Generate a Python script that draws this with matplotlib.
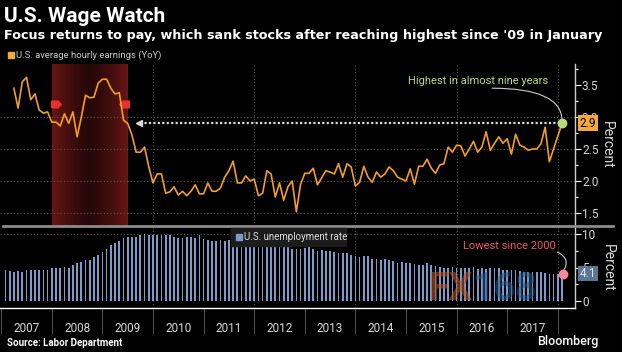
import numpy as np
import matplotlib.pyplot as plt
from matplotlib.lines import Line2D
from matplotlib.patches import Rectangle
from matplotlib.colors import LinearSegmentedColormap

plt.rcParams['font.family'] = ['Roboto', 'DejaVu Sans']

# U.S. average hourly earnings, YoY %, monthly from Mar 2007 to Jan 2018
wage_start = (2007, 3)
wages = [3.45, 3.14, 3.55, 3.62, 3.27, 3.36, 3.11, 3.06, 3.08, 2.92,
         2.92, 2.86, 3.05, 2.90, 3.08, 2.69, 3.00, 3.34, 3.30, 3.31, 3.53, 3.59,
         3.59, 3.45, 3.36, 3.38, 2.95, 2.90, 2.72, 2.45, 2.45, 2.53, 2.22, 1.97,
         2.11, 2.11, 1.81, 1.83, 1.91, 1.78, 1.84, 1.77, 1.84, 1.94, 1.80, 1.80,
         1.97, 1.84, 1.84, 1.89, 2.06, 2.16, 2.31, 1.97, 1.97, 2.08, 2.00, 2.03,
         1.77, 1.81, 2.16, 2.11, 1.75, 1.97, 1.70, 1.91, 2.00, 1.52, 1.95, 2.12,
         2.12, 2.20, 1.94, 2.05, 2.16, 2.14, 2.11, 2.27, 2.06, 2.27, 2.22, 1.92,
         1.98, 2.23, 2.06, 1.98, 2.14, 2.06, 2.11, 2.22, 2.16, 2.06, 2.03, 2.00,
         2.19, 1.95, 2.23, 2.23, 2.34, 2.20, 2.12, 2.25, 2.27, 2.53, 2.45, 2.56,
         2.55, 2.39, 2.50, 2.62, 2.45, 2.53, 2.77, 2.48, 2.59, 2.69, 2.59, 2.66,
         2.42, 2.73, 2.56, 2.53, 2.48, 2.50, 2.50, 2.58, 2.84, 2.30, 2.50, 2.70,
         2.90]

# U.S. unemployment rate, %, monthly from Jan 2007 to Jan 2018
unemp_start = (2007, 1)
unemp = [4.6, 4.5, 4.4, 4.5, 4.4, 4.6, 4.7, 4.6, 4.7, 4.7, 4.7, 5.0,
         5.0, 4.9, 5.1, 5.0, 5.4, 5.6, 5.8, 6.1, 6.1, 6.5, 6.8, 7.3,
         7.8, 8.3, 8.7, 9.0, 9.4, 9.5, 9.5, 9.6, 9.8, 10.0, 9.9, 9.9,
         9.8, 9.8, 9.9, 9.9, 9.6, 9.4, 9.4, 9.5, 9.5, 9.4, 9.8, 9.3,
         9.1, 9.0, 9.0, 9.1, 9.0, 9.1, 9.0, 9.0, 9.0, 8.8, 8.6, 8.5,
         8.3, 8.3, 8.2, 8.2, 8.2, 8.2, 8.2, 8.0, 7.8, 7.8, 7.7, 7.9,
         8.0, 7.7, 7.5, 7.6, 7.5, 7.5, 7.3, 7.2, 7.2, 7.2, 6.9, 6.7,
         6.6, 6.7, 6.7, 6.2, 6.3, 6.1, 6.2, 6.1, 5.9, 5.7, 5.8, 5.6,
         5.7, 5.5, 5.4, 5.4, 5.6, 5.3, 5.2, 5.1, 5.0, 5.0, 5.1, 5.0,
         4.9, 4.9, 5.0, 5.1, 4.8, 4.9, 4.8, 4.9, 5.0, 4.9, 4.7, 4.7,
         4.7, 4.7, 4.5, 4.4, 4.4, 4.3, 4.3, 4.4, 4.2, 4.1, 4.1, 4.1,
         4.1]

years = list(range(2007, 2018))
recession = (2008.0, 2009.5)
latest_wage = 2.9
latest_unemp = 4.1

ORANGE = '#f29d2a'
BLUE = '#7b9cc9'
GREY = '#d9d9d9'


def month_x(start, n):
    # monthly points sit at the end of each month
    y, m = start
    return np.array([y + (m + i) / 12.0 for i in range(n)])


wx = month_x(wage_start, len(wages))
ux = month_x(unemp_start, len(unemp))

W, H = 622, 352
fig = plt.figure(figsize=(W / 100, H / 100), dpi=100, facecolor='black')


def px_axes(x0, y0, x1, y1):
    return fig.add_axes([x0 / W, 1 - y1 / H, (x1 - x0) / W, (y1 - y0) / H])


ax1 = px_axes(0, 64, 575, 226)
ax2 = px_axes(0, 227, 575, 308)
xlim = (2006.976, 2018.34)

for ax in (ax1, ax2):
    ax.set_facecolor('black')
    for s in ('left', 'top', 'bottom'):
        ax.spines[s].set_visible(False)
    ax.spines['right'].set_color('#cfcfcf')
    ax.spines['right'].set_linewidth(1)
    ax.yaxis.tick_right()
    ax.tick_params(axis='y', which='major', colors='white', labelcolor=GREY,
                   labelsize=8.5, length=4, width=0.8, pad=1)
    ax.tick_params(axis='y', which='minor', colors='white', length=2, width=0.8)
    for gx in range(2010, 2019, 2):
        ax.axvline(gx, color='#5a5a5a', lw=0.8, ls=(0, (1, 2)), zorder=0.5)

# ---- top panel: wages
ylim1 = (1.297, 3.828)
grad = np.abs(np.linspace(-1, 1, 200)) ** 1.3
rec_cmap = LinearSegmentedColormap.from_list('rec', ['#260808', '#681616'])
ax1.imshow(grad[None, :], extent=(recession[0], recession[1], ylim1[0], ylim1[1]),
           aspect='auto', cmap=rec_cmap, zorder=0)
for gy in (1.5, 2.0, 2.5, 3.0):
    ax1.axhline(gy, color='#5a5a5a', lw=0.8, ls=(0, (1, 2)), zorder=0.5)

tag_r = [(-1, -0.7), (0.3, -0.7), (1, 0), (0.3, 0.7), (-1, 0.7), (-1, -0.7)]
tag_l = [(-x, y) for x, y in tag_r]
ax1.plot(recession[0] + 0.08, 3.2, marker=tag_r, ms=7, color='#e8302f', zorder=3)
ax1.plot(recession[1] - 0.08, 3.2, marker=tag_l, ms=7, color='#e8302f', zorder=3)

ax1.plot([2009.74, wx[-1]], [latest_wage, latest_wage], color=GREY, lw=1.6,
         ls=(0, (1, 1)), zorder=2)
ax1.plot(2009.72, latest_wage, marker='<', ms=5, color=GREY, zorder=2)
ax1.plot(wx, wages, color=ORANGE, lw=1.2, zorder=3)
ax1.plot(wx[-1], wages[-1], 'o', ms=6, color='#b8dc7c', zorder=4)

ax1.text(2016.42, 3.56, 'Highest in almost nine years', color='#b8d97c',
         fontsize=8, ha='center', va='center')
ax1.annotate('', xy=(wx[-1], 2.94), xytext=(2016.70, 3.45),
             arrowprops=dict(arrowstyle='-', color='#cccccc', lw=0.8,
                             shrinkA=0, shrinkB=0,
                             connectionstyle='angle3,angleA=0,angleB=90'))

ax1.set_xlim(*xlim)
ax1.set_ylim(*ylim1)
ax1.set_xticks([])
ax1.set_yticks([1.5, 2.0, 2.5, 3.0, 3.5])
ax1.set_yticklabels(['1.5', '2.0', '2.5', '3.0', '3.5'])
ax1.set_yticks(np.arange(1.5, 3.8, 0.25), minor=True)
ax1.yaxis.set_label_position('right')
ax1.set_ylabel('Percent', color=GREY, fontsize=10, rotation=-90, labelpad=11)
ax1.annotate('2.9', xy=(1.0, latest_wage), xycoords=('axes fraction', 'data'),
             xytext=(3.5, 0), textcoords='offset points', ha='left', va='center',
             fontsize=8.5, color='black', zorder=6, annotation_clip=False,
             bbox=dict(boxstyle='square,pad=0.12', fc='#f5a83a', ec='none'))

# ---- bottom panel: unemployment
ax2.bar(ux, unemp, width=0.034, color=BLUE, zorder=2)
ax2.axhline(10, color='#5a5a5a', lw=0.8, ls=(0, (1, 2)), zorder=0.5)
ax2.plot(ux[-1] + 0.01, latest_unemp, 'o', ms=6, color='#f7899e', zorder=4)
ax2.text(2017.04, 8.2, 'Lowest since 2000', color='#f0566f', fontsize=8,
         ha='center', va='center')
ax2.annotate('', xy=(ux[-1] + 0.01, 4.3), xytext=(2017.99, 7.3),
             arrowprops=dict(arrowstyle='-', color='#cccccc', lw=0.8,
                             shrinkA=0, shrinkB=0,
                             connectionstyle='arc3,rad=-0.6'))

ax2.set_xlim(*xlim)
ax2.set_ylim(-1.04, 11.04)
ax2.set_yticks([0, 5, 10])
ax2.set_yticks([2.5, 7.5], minor=True)
ax2.spines['bottom'].set_visible(True)
ax2.spines['bottom'].set_color('white')
ax2.spines['bottom'].set_linewidth(1)
ax2.set_xticks(list(years) + [2018])
ax2.set_xticklabels([])
ax2.tick_params(axis='x', which='major', length=19, width=0.8, color='#4a4a4a')
ax2.set_xticks([y + 0.5 for y in years], minor=True)
ax2.set_xticklabels([str(y) for y in years], minor=True)
ax2.tick_params(axis='x', which='minor', length=0, pad=10, labelsize=8.5,
                labelcolor=GREY)
ax2.yaxis.set_label_position('right')
ax2.set_ylabel('Percent', color=GREY, fontsize=10, rotation=-90, labelpad=14)
ax2.annotate('4.1', xy=(1.0, latest_unemp), xycoords=('axes fraction', 'data'),
             xytext=(3.5, 0), textcoords='offset points', ha='left', va='center',
             fontsize=8.5, color='#e6e6e6', zorder=6, annotation_clip=False,
             bbox=dict(boxstyle='square,pad=0.12', fc='#5b7597', ec='none'))

# ---- figure furniture
fig.add_artist(Line2D([3 / W, 613 / W], [1 - 226 / H, 1 - 226 / H],
                      color='#8c8c8c', lw=2, transform=fig.transFigure))

fig.text(4 / W, 1 - 16 / H, 'U.S. Wage Watch', color='white', fontsize=15,
         fontweight='bold', va='center')
fig.text(4 / W, 1 - 35 / H,
         "Focus returns to pay, which sank stocks after reaching highest since '09 in January",
         color='white', fontsize=9.2, fontweight='bold', va='center',
         family='DejaVu Sans')

fig.add_artist(Rectangle((8 / W, 1 - 58 / H), 6 / W, 6 / H, color='#f5a83a',
                         transform=fig.transFigure))
fig.text(16 / W, 1 - 55 / H, 'U.S. average hourly earnings (YoY)', color='#cccccc',
         fontsize=6.8, va='center')

fig.add_artist(Rectangle((231 / W, 1 - 246 / H), 115 / W, 18 / H, color='#1c1c1c',
                         transform=fig.transFigure, zorder=5))
fig.add_artist(Rectangle((236 / W, 1 - 240 / H), 6 / W, 6 / H, color=BLUE,
                         transform=fig.transFigure, zorder=6))
fig.text(244 / W, 1 - 237 / H, 'U.S. unemployment rate', color='#dddddd',
         fontsize=7, va='center', zorder=6)

# watermark
fig.text(473 / W, 1 - 289 / H, 'FX', color='#b4552a', alpha=0.6, fontsize=27,
         fontweight='bold', ha='right', va='center', zorder=7)
fig.text(473 / W, 1 - 289 / H, '168', color='#2b5a8c', alpha=0.55, fontsize=27,
         fontweight='bold', ha='left', va='center', zorder=7)

fig.text(7 / W, 1 - 343 / H, 'Source: Labor Department', color='white',
         fontsize=7, fontweight='bold', va='center')
fig.text(598 / W, 1 - 342 / H, 'Bloomberg', color='white', fontsize=9,
         fontweight='medium', ha='right', va='center')

fig.savefig('out.png', dpi=100, facecolor='black')
